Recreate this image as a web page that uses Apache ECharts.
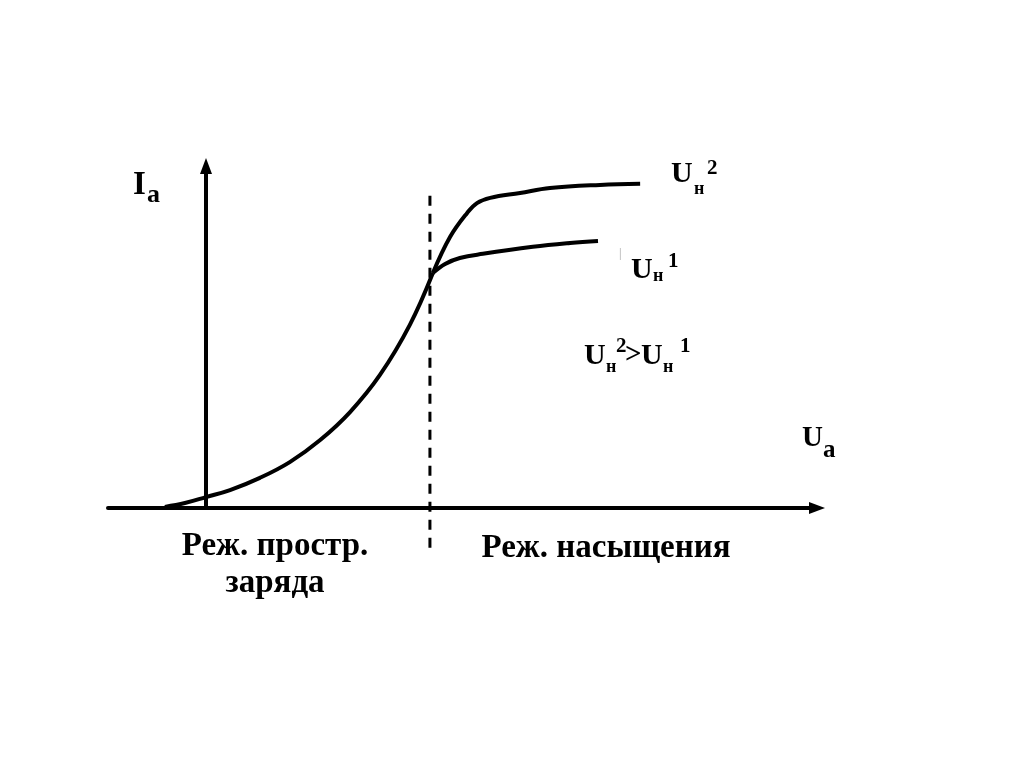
<!DOCTYPE html>
<html><head><meta charset="utf-8">
<script src="https://cdn.jsdelivr.net/npm/echarts@6/dist/echarts.min.js"></script>
<style>html,body{margin:0;padding:0;background:#fff}#c{width:1024px;height:767px}</style>
</head><body><div id="c"></div>
<script>
// Common rising part (space-charge mode)
var commonX = [-0.84, -0.43, 0, 0.49, 1.10, 1.71, 2.33, 2.94, 3.55, 4.16, 4.63];
var commonY = [0.03, 0.14, 0.31, 0.51, 0.86, 1.31, 1.94, 2.74, 3.80, 5.23, 6.71];
// Saturation branch for Uн1
var un1X = [4.63, 4.88, 5.18, 5.65, 6.67, 7.43, 8.00];
var un1Y = [6.71, 6.97, 7.14, 7.26, 7.46, 7.57, 7.63];
// Saturation branch for Uн2
var un2X = [4.63, 4.98, 5.33, 5.53, 5.80, 6.41, 7.02, 8.04, 8.86];
var un2Y = [6.71, 7.74, 8.43, 8.71, 8.86, 9.00, 9.14, 9.23, 9.26];
// Boundary between modes
var boundaryX = [4.57, 4.57];
var boundaryY = [-1.14, 9.14];

function pairs(xs, ys){ return xs.map(function(x,i){ return [x, ys[i]]; }); }

var FONT = '"Liberation Serif", "DejaVu Serif", serif';
// place text by its baseline
function txt(x, base, s, size, align, color){
  return {type:'text', x:x, y:base - 0.8*size, style:{text:s, fill:color||'#000', font:'bold '+size+'px '+FONT, textAlign:align||'left', textVerticalAlign:'top'}};
}

var chart = echarts.init(document.getElementById('c'));
chart.setOption({
  animation:false,
  backgroundColor:'#fff',
  grid:{left:108, top:166, width:49*14.47, height:35*9.77},
  xAxis:{type:'value', min:-2, max:12.47,
    axisLine:{show:true, onZero:true, symbol:['none','triangle'], symbolSize:[12,16], lineStyle:{color:'#000', width:4}},
    axisTick:{show:false}, axisLabel:{show:false}, splitLine:{show:false}},
  yAxis:{type:'value', min:0, max:9.77,
    axisLine:{show:true, onZero:true, symbol:['none','triangle'], symbolSize:[12,16], lineStyle:{color:'#000', width:4}},
    axisTick:{show:false}, axisLabel:{show:false}, splitLine:{show:false}},
  series:[
    {type:'line', data:pairs(commonX, commonY), smooth:0.4, showSymbol:false, clip:false, lineStyle:{color:'#000', width:4}},
    {type:'line', data:pairs(un1X, un1Y), smooth:0.4, showSymbol:false, clip:false, lineStyle:{color:'#000', width:4}},
    {type:'line', data:pairs(un2X, un2Y), smooth:0.4, showSymbol:false, clip:false, lineStyle:{color:'#000', width:4}},
    {type:'line', data:pairs(boundaryX, boundaryY), showSymbol:false, clip:false, lineStyle:{color:'#000', width:3, type:[10,8]}}
  ],
  graphic:[
    txt(133, 195, 'I', 33),
    txt(147, 203, 'a', 26),
    txt(802, 447, 'U', 29),
    txt(823, 458, 'a', 25),
    txt(671, 183, 'U', 30),
    txt(694, 195, 'н', 18),
    txt(707, 175, '2', 21),
    txt(619, 258, '|', 12, 'left', '#bbb'),
    txt(631, 279, 'U', 30),
    txt(653, 282, 'н', 18),
    txt(668, 268, '1', 21),
    txt(584, 365, 'U', 30),
    txt(606, 373, 'н', 18),
    txt(616, 353, '2', 21),
    txt(625, 364, '>', 29),
    txt(641, 365, 'U', 30),
    txt(663, 373, 'н', 18),
    txt(680, 353, '1', 21),
    txt(275, 556, 'Реж. простр.', 33, 'center'),
    txt(275, 593, 'заряда', 33, 'center'),
    txt(606, 558, 'Реж. насыщения', 33, 'center')
  ]
});
</script></body></html>
